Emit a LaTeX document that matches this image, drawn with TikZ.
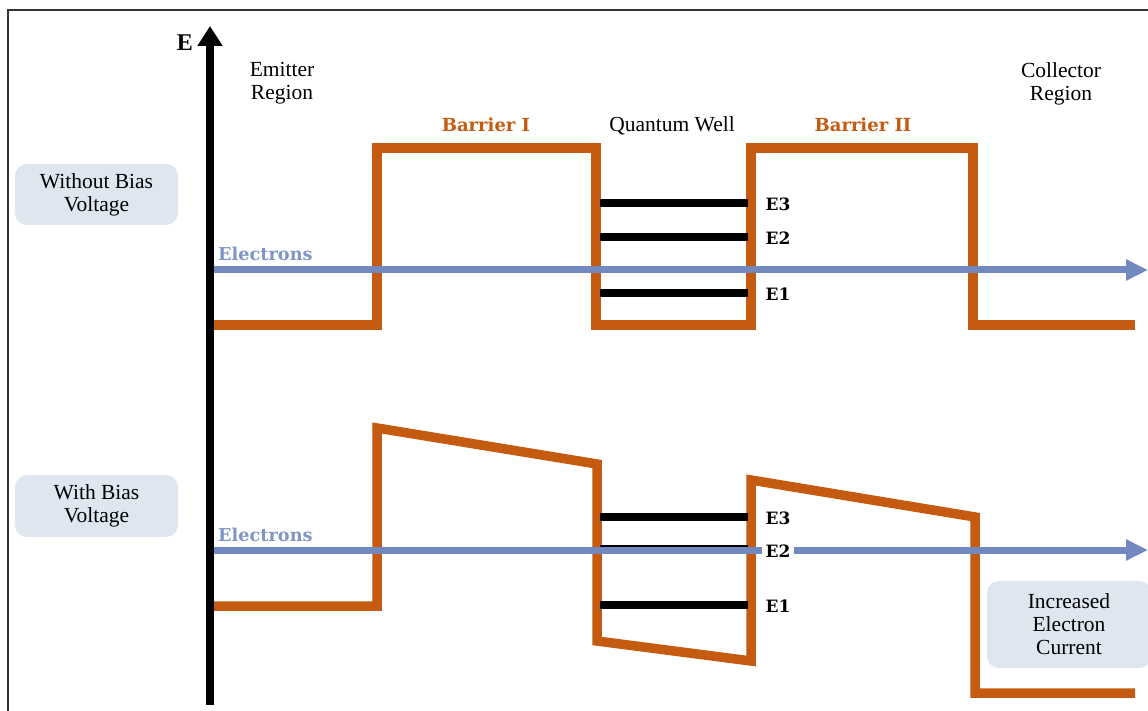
\documentclass[tikz,border=0pt]{standalone}
\usepackage{fontspec}
\setmainfont{Liberation Serif}
\newfontfamily\lblfont{DejaVu Serif}
\usetikzlibrary{arrows.meta}
\definecolor{barrier}{HTML}{C55A11}
\definecolor{elec}{HTML}{7189BF}
\definecolor{elecText}{HTML}{7F95C6}
\definecolor{boxfill}{HTML}{DEE7EF}
\definecolor{framegray}{HTML}{333333}
\begin{document}
\begin{tikzpicture}[x=1pt,y=-1pt,
  profile/.style={draw=barrier, line width=9.5pt, line join=miter},
  level/.style={draw=black, line width=8pt},
  flow/.style={draw=elec, line width=7pt, -{Triangle[length=22pt,width=20pt]}},
  plain/.style={font=\fontsize{21.5}{23}\selectfont, align=center, inner sep=0pt},
  barlabel/.style={font=\lblfont\bfseries\fontsize{18}{20}\selectfont, text=barrier, inner sep=0pt},
  elabel/.style={font=\lblfont\bfseries\fontsize{17.7}{20}\selectfont, text=elecText, inner sep=0pt, anchor=west},
  lvlabel/.style={font=\lblfont\bfseries\fontsize{17}{19}\selectfont, inner sep=0pt},
  infobox/.style={fill=boxfill, rounded corners=12pt, align=center, inner sep=0pt,
    font=\fontsize{21.5}{23}\selectfont}]
\useasboundingbox (0,0) rectangle (1148,711);
% frame
\draw[framegray, line width=2pt] (1148,10) -- (8,10) -- (8,711);

% info boxes
\node[infobox, minimum width=163pt, minimum height=61pt] (nobias) at (96.5,194.5) {\raisebox{-2pt}{\parbox{160pt}{\centering Without Bias\\Voltage}}};
\node[infobox, minimum width=163pt, minimum height=62pt] (bias) at (96.5,506) {\raisebox{-2pt}{\parbox{160pt}{\centering With Bias\\Voltage}}};
\node[infobox, minimum width=164pt, minimum height=87pt] (incr) at (1069,624.5) {\raisebox{-2pt}{\parbox{160pt}{\centering Increased\\Electron\\Current}}};

% region labels
\node[plain] (emit) at (282,83.5) {Emitter\\Region};
\node[plain] (coll) at (1061,83.5) {Collector\\Region};
\node[barlabel] (b1) at (486,125) {Barrier I};
\node[plain] (qw) at (672,126) {Quantum Well};
\node[barlabel] (b2) at (863,125) {Barrier II};

% top profile (no bias)
\draw[profile] (213,325) -- (377,325) -- (377,148) -- (596,148) -- (596,325)
  -- (751,325) -- (751,148) -- (973,148) -- (973,325) -- (1135,325);
% top levels
\draw[level] (600,203) -- (748,203);
\draw[level] (600,237) -- (748,237);
\draw[level] (600,293) -- (748,293);
\node[lvlabel] (e3t) at (778,204) {E3};
\node[lvlabel] (e2t) at (778,238) {E2};
\node[lvlabel] (e1t) at (778,294) {E1};
% top electrons
\coordinate (ts) at (213,270);
\coordinate (te) at (1148,270);
\draw[flow] (ts) -- (te);
\node[elabel] (elt) at (218,254) {Electrons};

% bottom profile (bias)
\draw[profile] (213,606) -- (377,606) -- (377,428) -- (597,464) -- (597,641)
  -- (751,661) -- (751,480) -- (975,517) -- (975,693) -- (1135,693);
% bottom levels
\draw[level] (600,517) -- (748,517);
\draw[level] (600,549) -- (748,549);
\draw[level] (600,605) -- (748,605);
% bottom electrons
\coordinate (bs) at (213,550);
\coordinate (be) at (1148,550);
\draw[flow] (bs) -- (be);
\node[lvlabel] (e3b) at (778,518) {E3};
\node[lvlabel, fill=white, inner xsep=3.5pt, inner ysep=3pt] (e2b) at (778,551) {E2};
\node[lvlabel] (e1b) at (778,606) {E1};
\node[elabel] (elb) at (218,535) {Electrons};

% energy axis
\coordinate (ax0) at (210,705);
\coordinate (ax1) at (210,26);
\draw[line width=8pt, -{Triangle[length=20pt,width=24pt]}] (ax0) -- (ax1);
\node[font=\bfseries\fontsize{24}{26}\selectfont, inner sep=0pt] (elab) at (185,43) {E};
\end{tikzpicture}
\end{document}
